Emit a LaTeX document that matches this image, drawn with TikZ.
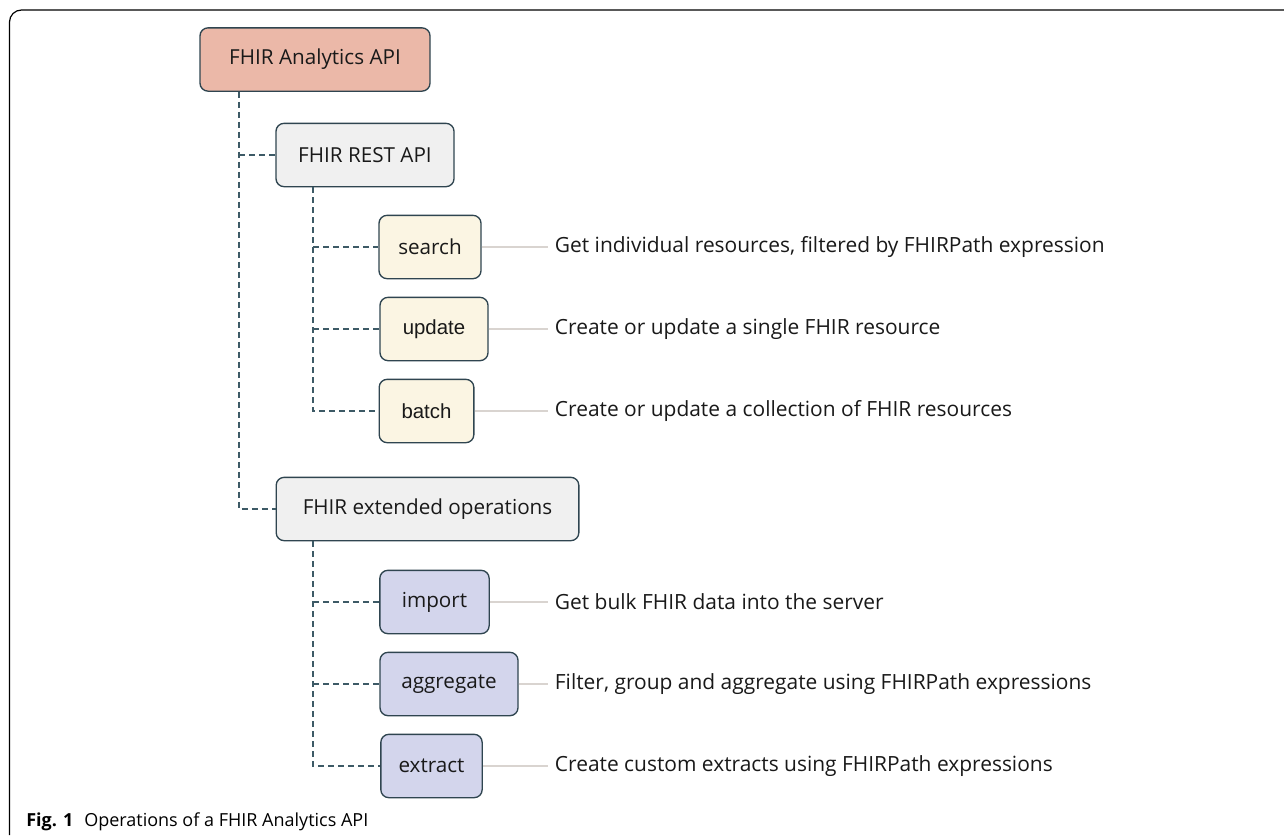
\documentclass[tikz,border=0pt]{standalone}
\usepackage{fontspec}
\setmainfont{Open Sans}
\newfontfamily\helv{Liberation Sans}
\definecolor{edgec}{HTML}{2F4550}
\definecolor{dashc}{HTML}{3D5A66}
\definecolor{rootfill}{HTML}{EBB8A8}
\definecolor{midfill}{HTML}{F0F0F0}
\definecolor{restfill}{HTML}{FBF5E3}
\definecolor{extfill}{HTML}{D3D5EC}
\definecolor{descline}{HTML}{D9D4D0}
\begin{document}
\begin{tikzpicture}[x=0.75pt,y=-0.75pt,
  box/.style={draw=edgec, line width=1pt, rounded corners=6pt, inner sep=0pt,
    minimum height=47.5pt, font=\fontsize{15.5}{18}\selectfont, text=black!90},
  tree/.style={draw=dashc, line width=1.1pt, dash pattern=on 4.5pt off 3pt},
  desc/.style={anchor=west, inner xsep=5pt, inner ysep=0pt, font=\fontsize{15.7}{18}\selectfont, text=black!90},
  dline/.style={draw=descline, line width=1pt}]
\useasboundingbox (0,0) rectangle (1284,835);
\draw[line width=0.9pt, rounded corners=9pt] (9.5,835) -- (9.5,10) -- (1284,10);
% nodes
\node[box, fill=rootfill, minimum width=172.5pt] (root) at (315,59.5) {FHIR Analytics API};
\node[box, fill=midfill, minimum width=133.5pt] (rest) at (365,155) {FHIR REST API};
\node[box, fill=midfill, minimum width=227pt] (ext) at (427.5,509) {FHIR extended operations};
\node[box, fill=restfill, minimum width=76.5pt] (search) at (430,247) {search};
\node[box, fill=restfill, minimum width=81pt, font=\helv\fontsize{15.3}{18}\selectfont] (update) at (434,329) {update};
\node[box, fill=restfill, minimum width=71pt, font=\helv\fontsize{15.3}{18}\selectfont] (batch) at (426.5,411) {batch};
\node[box, fill=extfill, minimum width=82pt] (import) at (434.5,602) {import};
\node[box, fill=extfill, minimum width=103.5pt] (aggregate) at (449,684) {aggregate};
\node[box, fill=extfill, minimum width=76pt] (extract) at (431.5,766) {extract};
% descriptions
\node[desc] (dsearch) at (548,247) {Get individual resources, filtered by FHIRPath expression};
\node[desc] (dupdate) at (548,329) {Create or update a single FHIR resource};
\node[desc] (dbatch) at (548,411) {Create or update a collection of FHIR resources};
\node[desc] (dimport) at (548,602) {Get bulk FHIR data into the server};
\node[desc] (daggregate) at (548,684) {Filter, group and aggregate using FHIRPath expressions};
\node[desc] (dextract) at (548,766) {Create custom extracts using FHIRPath expressions};
\foreach \n in {search,update,batch,import,aggregate,extract}
  \draw[dline] (\n.east) -- (d\n.west);
% tree connectors
\draw[tree] (root.south -| 239,0) |- (ext.west);
\draw[tree] (239,155) -- (rest.west);
\draw[tree] (rest.south -| 313,0) |- (batch.west);
\draw[tree] (313,247) -- (search.west);
\draw[tree] (313,329) -- (update.west);
\draw[tree] (ext.south -| 313,0) |- (extract.west);
\draw[tree] (313,602) -- (import.west);
\draw[tree] (313,684) -- (aggregate.west);
% caption
\node[anchor=base west, inner sep=0pt, font=\fontsize{13.5}{15}\selectfont] (cap) at (26,826) {\textbf{Fig. 1}\hspace{0.6em}Operations of a FHIR Analytics API};
\end{tikzpicture}
\end{document}
